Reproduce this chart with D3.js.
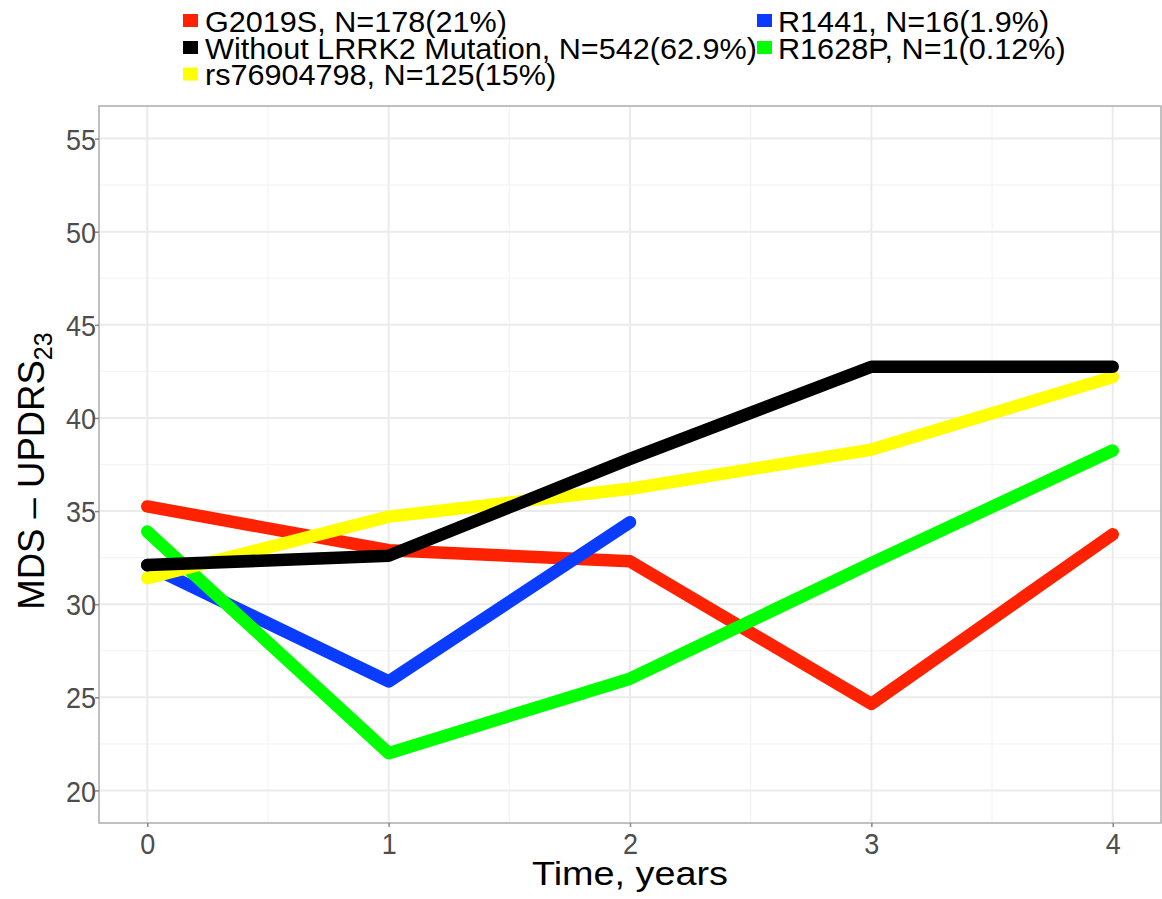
<!DOCTYPE html>
<html><head><meta charset="utf-8">
<script src="https://cdn.jsdelivr.net/npm/d3@7"></script>
<style>html,body{margin:0;padding:0;background:#fff;}svg{display:block;}</style>
</head><body>
<svg id="chart" width="1162" height="899"></svg>
<script>
// ---- data ----
const times = [0, 1, 2, 3, 4];
const seriesNames = ["G2019S, N=178(21%)", "R1441, N=16(1.9%)", "R1628P, N=1(0.12%)", "rs76904798, N=125(15%)", "Without LRRK2 Mutation, N=542(62.9%)"];
const seriesColors = ["#ff2200", "#0a3cff", "#00ff00", "#ffff00", "#000000"];
const g2019sValues = [35.25, 32.9, 32.3, 24.65, 33.75];
const r1441Values = [32.1, 25.85, 34.4];
const r1628pValues = [33.9, 22.0, 26.0, 32.2, 38.25];
const rsValues = [31.4, 34.7, 36.2, 38.3, 42.2];
const withoutValues = [32.1, 32.6, 37.8, 42.75, 42.75];
const seriesValues = [g2019sValues, r1441Values, r1628pValues, rsValues, withoutValues];
const legendOrder = [0, 1, 4, 2, 3]; // row-wise: col1/col2
const xTicks = [0, 1, 2, 3, 4];
const yTicks = [20, 25, 30, 35, 40, 45, 50, 55];
const xMinor = [0.5, 1.5, 2.5, 3.5];
const yMinor = [22.5, 27.5, 32.5, 37.5, 42.5, 47.5, 52.5];
const xTitle = "Time, years";
const yTitleMain = "MDS \u2013 UPDRS";
const yTitleSub = "23";

// ---- layout ----
const FONT = "'Liberation Sans', Arial, sans-serif";
const pLeft = 99, pRight = 1161, pTop = 106, pBottom = 823;
const svg = d3.select("#chart");
const x = d3.scaleLinear().domain([-0.2, 4.2]).range([pLeft, pRight]);
const y = d3.scaleLinear().domain([18.25, 56.75]).range([pBottom, pTop]);

// grid
const g = svg.append("g");
g.selectAll(".ymin").data(yMinor).join("line")
  .attr("x1", pLeft).attr("x2", pRight).attr("y1", d => y(d)).attr("y2", d => y(d))
  .attr("stroke", "#f4f4f4").attr("stroke-width", 1.2);
g.selectAll(".xmin").data(xMinor).join("line")
  .attr("y1", pTop).attr("y2", pBottom).attr("x1", d => x(d)).attr("x2", d => x(d))
  .attr("stroke", "#f4f4f4").attr("stroke-width", 1.2);
g.selectAll(".ymaj").data(yTicks).join("line")
  .attr("x1", pLeft).attr("x2", pRight).attr("y1", d => y(d)).attr("y2", d => y(d))
  .attr("stroke", "#ebebeb").attr("stroke-width", 2);
g.selectAll(".xmaj").data(xTicks).join("line")
  .attr("y1", pTop).attr("y2", pBottom).attr("x1", d => x(d)).attr("x2", d => x(d))
  .attr("stroke", "#ebebeb").attr("stroke-width", 2);

// lines
const line = d3.line().x((d, i) => x(times[i])).y(d => y(d));
seriesValues.forEach((vals, k) => {
  svg.append("path").datum(vals).attr("d", line)
    .attr("fill", "none").attr("stroke", seriesColors[k]).attr("stroke-width", 12.5)
    .attr("stroke-linejoin", "round").attr("stroke-linecap", "round");
});

// panel border
svg.append("rect").attr("x", pLeft).attr("y", pTop).attr("width", pRight - pLeft).attr("height", pBottom - pTop)
  .attr("fill", "none").attr("stroke", "#acacac").attr("stroke-width", 1.5);

// axes
const xAxis = svg.append("g").attr("transform", `translate(0,${pBottom})`)
  .call(d3.axisBottom(x).tickValues(xTicks).tickSize(4).tickPadding(6).tickFormat(d3.format("d")));
const yAxis = svg.append("g").attr("transform", `translate(${pLeft},0)`)
  .call(d3.axisLeft(y).tickValues(yTicks).tickSize(4).tickPadding(4).tickFormat(d3.format("d")));
[xAxis, yAxis].forEach(a => {
  a.select(".domain").remove();
  a.selectAll(".tick line").attr("stroke", "#888").attr("stroke-width", 1.5);
  a.selectAll(".tick text").attr("fill", "#4d4d4d").attr("font-family", FONT).attr("font-size", 27);
});
xAxis.selectAll(".tick text").attr("transform", "translate(0,31) scale(1,1.1)").attr("y", 0).attr("dy", 0);
yAxis.selectAll(".tick text").attr("transform", "translate(-3,0) scale(1,1.12)").attr("x", 0).attr("dy", "0.35em");

// x title
svg.append("text").attr("transform", `translate(${(pLeft + pRight) / 2},885) scale(1.22,1.06)`)
  .attr("text-anchor", "middle").attr("font-family", FONT).attr("font-size", 31).attr("fill", "#000")
  .text(xTitle);

// y title
const yt = svg.append("text")
  .attr("transform", `translate(44,471) rotate(-90)`)
  .attr("text-anchor", "middle").attr("font-family", FONT).attr("font-size", 36.5).attr("fill", "#000");
yt.append("tspan").text(yTitleMain);
yt.append("tspan").attr("font-size", 25).attr("dy", 8).text(yTitleSub);

// legend
const legX = [183, 757];
const legTextX = [205, 778];
const rowY = [20.5, 47.5, 74];
legendOrder.forEach((k, i) => {
  const col = i % 2, row = Math.floor(i / 2);
  svg.append("rect").attr("x", legX[col]).attr("y", rowY[row] - 6.5).attr("width", 15).attr("height", 13)
    .attr("fill", seriesColors[k]);
  svg.append("text").attr("transform", `translate(${legTextX[col]},${rowY[row] + 11}) scale(1.02,1.0)`)
    .attr("font-family", FONT).attr("font-size", 30).attr("fill", "#000").text(seriesNames[k]);
});
</script>
</body></html>
